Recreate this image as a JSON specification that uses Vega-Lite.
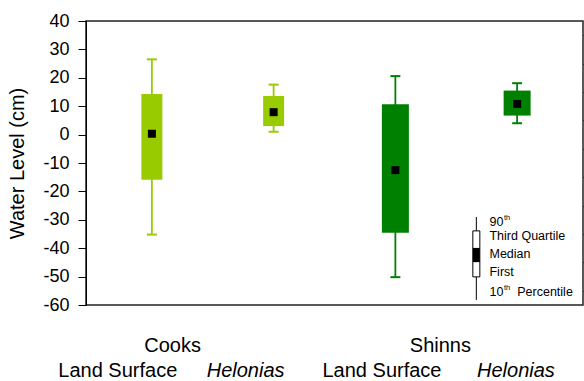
{
  "$schema": "https://vega.github.io/schema/vega-lite/v6.json",
  "width": 497,
  "height": 284,
  "autosize": {"type": "none"},
  "padding": {"left": 86, "top": 21, "right": 1, "bottom": 76},
  "background": "white",
  "config": {
    "view": {"stroke": "#222", "strokeWidth": 1.5},
    "font": "Liberation Sans",
    "text": {"font": "Liberation Sans"}
  },
  "resolve": {"axis": {"y": "independent"}},
  "datasets": {
    "boxes": [
      {"group": "Cooks Land Surface", "site": "Cooks", "slot": 0.5, "p10": -35.2, "q1": -15.9, "median": 0.3, "q3": 14.3, "p90": 26.5},
      {"group": "Cooks Helonias", "site": "Cooks", "slot": 1.5, "p10": 1.0, "q1": 3.0, "median": 7.9, "q3": 13.6, "p90": 17.6},
      {"group": "Shinns Land Surface", "site": "Shinns", "slot": 2.5, "p10": -50.2, "q1": -34.6, "median": -12.5, "q3": 10.7, "p90": 20.6},
      {"group": "Shinns Helonias", "site": "Shinns", "slot": 3.5, "p10": 4.0, "q1": 6.7, "median": 10.8, "q3": 15.5, "p90": 18.1}
    ],
    "legbox": [
      {"x": 3.165, "p10": -58.2, "q1": -50.1, "mlo": -44.9, "mhi": -39.9, "q3": -33.9, "p90": -29.0}
    ],
    "legtext": [
      {"text": "90", "x": 3.273, "y": -30.6},
      {"text": "Third Quartile", "x": 3.273, "y": -35.6},
      {"text": "Median", "x": 3.273, "y": -42.0},
      {"text": "First", "x": 3.273, "y": -48.3},
      {"text": "10", "x": 3.273, "y": -55.5},
      {"text": "Percentile", "x": 3.501, "y": -55.5}
    ],
    "legsup": [
      {"text": "th", "x": 3.273, "y": -30.6},
      {"text": "th", "x": 3.273, "y": -55.5}
    ],
    "sites": [
      {"text": "Cooks", "x": 0.67, "y": -76.6},
      {"text": "Shinns", "x": 2.87, "y": -76.6}
    ],
    "surfaces": [
      {"text": "Land Surface", "x": 0.22, "y": -85.5},
      {"text": "Land Surface", "x": 2.39, "y": -85.5}
    ],
    "species": [
      {"text": "Helonias", "x": 1.27, "y": -85.5},
      {"text": "Helonias", "x": 3.49, "y": -85.5}
    ]
  },
  "layer": [
    {
      "data": {"name": "boxes"},
      "mark": {"type": "rule", "strokeWidth": 1.8},
      "encoding": {
        "x": {"field": "slot", "type": "quantitative", "scale": {"domain": [0, 4], "nice": false, "zero": false}, "axis": null},
        "y": {
          "field": "p10", "type": "quantitative",
          "scale": {"domain": [-60, 40], "nice": false, "zero": false},
          "axis": {
            "title": "Water Level (cm)",
            "titleFont": "Liberation Sans",
            "titleFontSize": 20,
            "titleFontWeight": "normal",
            "titleColor": "black",
            "titlePadding": 15,
            "values": [-60, -50, -40, -30, -20, -10, 0, 10, 20, 30, 40],
            "labelExpr": "toString(datum.value)",
            "labelFont": "Liberation Sans",
            "labelFontSize": 18,
            "labelColor": "black",
            "labelPadding": 9,
            "labelOverlap": false,
            "labelBound": false,
            "labelFlush": false,
            "tickColor": "black",
            "tickSize": 8,
            "tickWidth": 1,
            "domain": true,
            "domainColor": "black",
            "domainWidth": 1,
            "grid": false
          }
        },
        "y2": {"field": "p90"},
        "color": {"field": "site", "type": "nominal", "scale": {"domain": ["Cooks", "Shinns"], "range": ["#99CC00", "#008000"]}, "legend": null}
      }
    },
    {
      "data": {"name": "boxes"},
      "mark": {"type": "tick", "orient": "horizontal", "size": 10, "thickness": 2, "opacity": 1},
      "encoding": {
        "x": {"field": "slot", "type": "quantitative"},
        "y": {"field": "p10", "type": "quantitative", "axis": null},
        "color": {"field": "site", "type": "nominal", "legend": null}
      }
    },
    {
      "data": {"name": "boxes"},
      "mark": {"type": "tick", "orient": "horizontal", "size": 10, "thickness": 2, "opacity": 1},
      "encoding": {
        "x": {"field": "slot", "type": "quantitative"},
        "y": {"field": "p90", "type": "quantitative", "axis": null},
        "color": {"field": "site", "type": "nominal", "legend": null}
      }
    },
    {
      "data": {"name": "boxes"},
      "mark": {"type": "bar", "orient": "vertical"},
      "encoding": {
        "x": {"field": "slot", "type": "quantitative"},
        "y": {"field": "q1", "type": "quantitative", "axis": null},
        "y2": {"field": "q3"},
        "size": {"field": "site", "type": "ordinal", "scale": {"domain": ["Cooks", "Shinns"], "range": [21, 27]}, "legend": null},
        "color": {"field": "site", "type": "nominal", "legend": null}
      }
    },
    {
      "data": {"name": "boxes"},
      "mark": {"type": "point", "shape": "square", "filled": true, "size": 64, "color": "black", "opacity": 1},
      "encoding": {
        "x": {"field": "slot", "type": "quantitative"},
        "y": {
          "field": "median", "type": "quantitative",
          "axis": {
            "title": null,
            "values": [-55, -45, -35, -25, -15, -5, 5, 15, 25, 35],
            "labels": false,
            "domain": false,
            "grid": false,
            "tickColor": "black",
            "tickSize": 5,
            "tickWidth": 1
          }
        }
      }
    },
    {
      "data": {"name": "legbox"},
      "mark": {"type": "rule", "color": "black", "strokeWidth": 1},
      "encoding": {
        "x": {"field": "x", "type": "quantitative"},
        "y": {"field": "p10", "type": "quantitative", "axis": null},
        "y2": {"field": "p90"}
      }
    },
    {
      "data": {"name": "legbox"},
      "mark": {"type": "bar", "orient": "vertical", "size": 7, "fill": "white", "stroke": "black", "strokeWidth": 1},
      "encoding": {
        "x": {"field": "x", "type": "quantitative"},
        "y": {"field": "q1", "type": "quantitative", "axis": null},
        "y2": {"field": "q3"}
      }
    },
    {
      "data": {"name": "legbox"},
      "mark": {"type": "bar", "orient": "vertical", "size": 7, "fill": "black"},
      "encoding": {
        "x": {"field": "x", "type": "quantitative"},
        "y": {"field": "mlo", "type": "quantitative", "axis": null},
        "y2": {"field": "mhi"}
      }
    },
    {
      "data": {"name": "legtext"},
      "mark": {"type": "text", "align": "left", "baseline": "middle", "fontSize": 12.5, "color": "black", "font": "Liberation Sans"},
      "encoding": {
        "x": {"field": "x", "type": "quantitative"},
        "y": {"field": "y", "type": "quantitative", "axis": null},
        "text": {"field": "text"}
      }
    },
    {
      "data": {"name": "legsup"},
      "mark": {"type": "text", "align": "left", "baseline": "middle", "fontSize": 7.5, "dx": 14.5, "dy": -4, "color": "black", "font": "Liberation Sans"},
      "encoding": {
        "x": {"field": "x", "type": "quantitative"},
        "y": {"field": "y", "type": "quantitative", "axis": null},
        "text": {"field": "text"}
      }
    },
    {
      "data": {"name": "sites"},
      "mark": {"type": "text", "align": "center", "baseline": "alphabetic", "fontSize": 20, "color": "black", "font": "Liberation Sans"},
      "encoding": {
        "x": {"field": "x", "type": "quantitative"},
        "y": {"field": "y", "type": "quantitative", "axis": null},
        "text": {"field": "text"}
      }
    },
    {
      "data": {"name": "surfaces"},
      "mark": {"type": "text", "align": "center", "baseline": "alphabetic", "fontSize": 20, "color": "black", "font": "Liberation Sans"},
      "encoding": {
        "x": {"field": "x", "type": "quantitative"},
        "y": {"field": "y", "type": "quantitative", "axis": null},
        "text": {"field": "text"}
      }
    },
    {
      "data": {"name": "species"},
      "mark": {"type": "text", "align": "center", "baseline": "alphabetic", "fontSize": 20, "fontStyle": "italic", "color": "black", "font": "Liberation Sans"},
      "encoding": {
        "x": {"field": "x", "type": "quantitative"},
        "y": {"field": "y", "type": "quantitative", "axis": null},
        "text": {"field": "text"}
      }
    }
  ]
}
